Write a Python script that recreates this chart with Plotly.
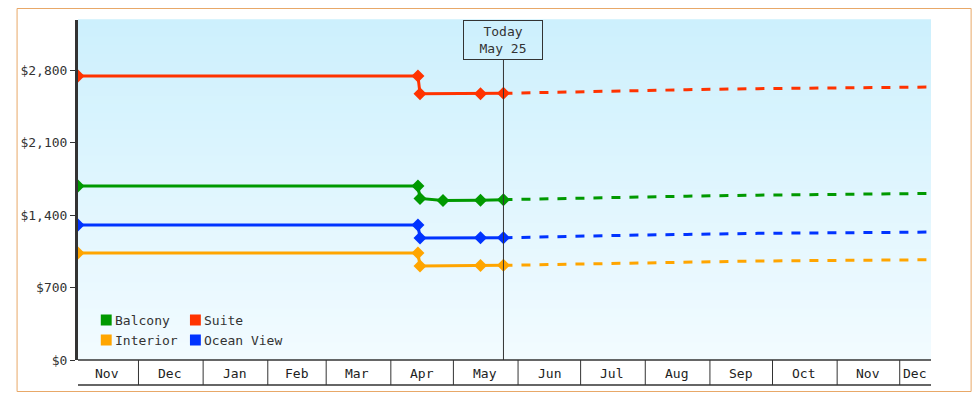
import plotly.graph_objects as go
from datetime import date

series_names = ["Suite", "Balcony", "Ocean View", "Interior"]
colors = {"Suite": "#ff3300", "Balcony": "#009900", "Ocean View": "#0033ff", "Interior": "#ffa500"}

hist_dates = {
    "Suite": ["2024-11-02", "2025-04-14", "2025-04-15", "2025-05-14", "2025-05-25"],
    "Balcony": ["2024-11-02", "2025-04-14", "2025-04-15", "2025-04-26", "2025-05-14", "2025-05-25"],
    "Ocean View": ["2024-11-02", "2025-04-14", "2025-04-15", "2025-05-14", "2025-05-25"],
    "Interior": ["2024-11-02", "2025-04-14", "2025-04-15", "2025-05-14", "2025-05-25"],
}
hist_values = {
    "Suite": [2742, 2742, 2570, 2572, 2575],
    "Balcony": [1680, 1680, 1560, 1540, 1542, 1548],
    "Ocean View": [1303, 1303, 1178, 1180, 1180],
    "Interior": [1033, 1033, 908, 912, 914],
}
fc_dates = ["2025-05-25", "2025-06-11", "2025-07-01", "2025-07-19", "2025-08-21", "2025-09-24", "2025-12-01", "2025-12-16"]
fc_values = {
    "Suite": [2575, 2582, 2592, 2600, 2610, 2620, 2632, 2636],
    "Balcony": [1548, 1555, 1565, 1572, 1582, 1592, 1604, 1608],
    "Ocean View": [1180, 1188, 1196, 1203, 1213, 1223, 1233, 1236],
    "Interior": [914, 920, 930, 937, 946, 956, 966, 968],
}
month_labels = ["Nov", "Dec", "Jan", "Feb", "Mar", "Apr", "May", "Jun", "Jul", "Aug", "Sep", "Oct", "Nov", "Dec"]
month_starts = ["2024-11-01", "2024-12-01", "2025-01-01", "2025-02-01", "2025-03-01", "2025-04-01", "2025-05-01",
                "2025-06-01", "2025-07-01", "2025-08-01", "2025-09-01", "2025-10-01", "2025-11-01", "2025-12-01"]
x_start, x_end = "2024-11-02", "2025-12-16"
today = "2025-05-25"
y_ticks = [0, 700, 1400, 2100, 2800]
y_max = 3283

FONT = "DejaVu Sans Mono"
OFF = 8  # page offset of the figure
W, H = 964, 384
L, T = 70 - OFF, 20 - OFF
pw, ph = 861, 340
R, B = W - L - pw, H - T - ph
def px(x): return (x - OFF - L) / pw
def py(y): return (T + ph - (y - OFF)) / ph

fig = go.Figure()
shapes, annos = [], []

n = 40
for i in range(n):
    f = i / (n - 1)
    c1, c2 = (205, 240, 253), (242, 251, 255)
    col = "rgb(%d,%d,%d)" % tuple(round(c1[k] + (c2[k] - c1[k]) * f) for k in range(3))
    shapes.append(dict(type="rect", xref="paper", yref="paper", x0=0, x1=1,
                       y0=1 - (i + 1) / n, y1=1 - i / n + 0.002, fillcolor=col, line_width=0, layer="below"))

for name in series_names:
    c = colors[name]
    fig.add_trace(go.Scatter(x=fc_dates, y=fc_values[name], mode="lines", line=dict(color=c, width=3, dash="dash"),
                             showlegend=False, hoverinfo="skip"))
    fig.add_trace(go.Scatter(x=hist_dates[name], y=hist_values[name], mode="lines+markers",
                             line=dict(color=c, width=3), marker=dict(symbol="diamond", size=10, color=c),
                             showlegend=False))

shapes.append(dict(type="line", xref="x", yref="paper", x0=today, x1=today, y0=0, y1=py(60),
                   line=dict(color="#333", width=1)))
annos.append(dict(x=today, xref="x", y=py(40), yref="paper", yanchor="middle", text="Today<br>May 25",
                  showarrow=False, font=dict(family=FONT, size=13, color="#333"), bordercolor="#333",
                  borderwidth=1, borderpad=3, bgcolor="rgba(0,0,0,0)", width=72))

yb = py(385)
for d in month_starts[1:]:
    shapes.append(dict(type="line", xref="x", yref="paper", x0=d, x1=d, y0=0, y1=yb, line=dict(color="#333", width=1)))
shapes.append(dict(type="line", xref="paper", yref="paper", x0=0, x1=1, y0=yb, y1=yb, line=dict(color="#333", width=1.5)))
shapes.append(dict(type="line", xref="paper", yref="paper", x0=0, x1=1, y0=0, y1=0, line=dict(color="#333", width=1.5)))
xs = [date.fromisoformat(s) for s in month_starts] + [date(2026, 1, 1)]
lo, hi = date.fromisoformat(x_start), date.fromisoformat(x_end)
for i, lab in enumerate(month_labels):
    a, b = max(xs[i], lo), min(xs[i + 1], hi)
    mid = a + (b - a) / 2
    annos.append(dict(x=mid.isoformat(), xref="x", y=py(373), yref="paper", yanchor="middle", text=lab,
                      showarrow=False, font=dict(family=FONT, size=13, color="#222")))

leg = [("Balcony", 93, 320), ("Suite", 183, 320), ("Interior", 93, 340), ("Ocean View", 183, 340)]
for name, lx, ly in leg:
    shapes.append(dict(type="rect", xref="paper", yref="paper", x0=px(lx), x1=px(lx + 11), y0=py(ly + 5.5),
                       y1=py(ly - 5.5), fillcolor=colors[name], line_width=0))
    annos.append(dict(x=px(lx + 12), xref="paper", y=py(ly), yref="paper", text=name, showarrow=False,
                      xanchor="left", yanchor="middle", font=dict(family=FONT, size=13, color="#333")))

shapes.append(dict(type="rect", xref="paper", yref="paper", x0=px(OFF + 0.5), x1=px(OFF + W - 0.5),
                   y0=py(OFF + H - 0.5), y1=py(OFF + 0.5), line=dict(color="#e8a868", width=1)))

fig.update_layout(
    width=W, height=H, margin=dict(l=L, r=R, t=T, b=B), paper_bgcolor="white", plot_bgcolor="rgba(0,0,0,0)",
    shapes=shapes, annotations=annos, showlegend=False,
    xaxis=dict(range=[x_start, x_end], showticklabels=False, showgrid=False, zeroline=False, ticks=""),
    yaxis=dict(range=[0, y_max], tickvals=y_ticks, ticktext=["$" + format(v, ",") for v in y_ticks],
               showgrid=False, zeroline=False, showline=True, linecolor="#333", linewidth=3, ticks="outside",
               ticklen=5, tickcolor="#333", tickfont=dict(family=FONT, size=13, color="#333")),
)
fig.write_html("out.html")
